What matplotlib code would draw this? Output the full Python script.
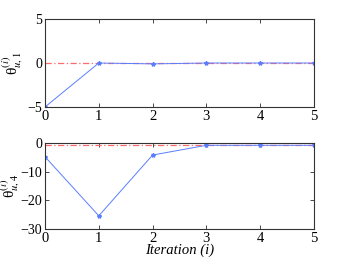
import matplotlib
matplotlib.use('Agg')
import matplotlib.pyplot as plt

iters = [0, 1, 2, 3, 4, 5]
theta_u1 = [-5, 0, -0.1, 0, 0, 0]
theta_u4 = [-4.8, -25.4, -4.2, -0.8, -0.8, -0.8]
ref_u1 = 0
ref_u4 = -0.8

plt.rcParams['font.family'] = 'Liberation Serif'
plt.rcParams['mathtext.fontset'] = 'stix'
plt.rcParams['font.size'] = 10.5

fig = plt.figure(figsize=(3.46, 2.6), dpi=100)
ax1 = fig.add_axes([45/346, 1-107/260, 269/346, 88/260])
ax2 = fig.add_axes([45/346, 1-229/260, 269/346, 86/260])

line_col = '#5a7dff'
for ax, vals, ref in [(ax1, theta_u1, ref_u1), (ax2, theta_u4, ref_u4)]:
    ax.axhline(ref, color='#ff6a6a', linestyle=(0, (5, 2, 1, 2)), linewidth=0.9)
    ax.plot(iters, vals, color=line_col, linewidth=0.7, marker='*', markersize=3)
    ax.set_xlim(0, 5)
    ax.tick_params(direction='in', top=True, right=True, length=3, width=0.5, pad=2)
    ax.tick_params(axis='y', labelsize=10)
    for s in ax.spines.values():
        s.set_linewidth(0.8)
        s.set_color('#333333')

ax1.set_ylim(-5, 5)
ax1.set_yticks([-5, 0, 5])
ax1.set_ylabel('θ' + r'$^{(i)}_{u,1}$', fontsize=11, labelpad=0)
ax2.set_ylim(-30, 0)
ax2.set_yticks([-30, -20, -10, 0])
ax2.set_ylabel('θ' + r'$^{(i)}_{u,4}$', fontsize=11, labelpad=0)
ax1.yaxis.set_label_coords(-0.075, 0.5)
ax2.yaxis.set_label_coords(-0.085, 0.5)
ax2.set_xlabel('Iteration (i)', style='italic', labelpad=-1)

fig.savefig('out.png', dpi=100)
